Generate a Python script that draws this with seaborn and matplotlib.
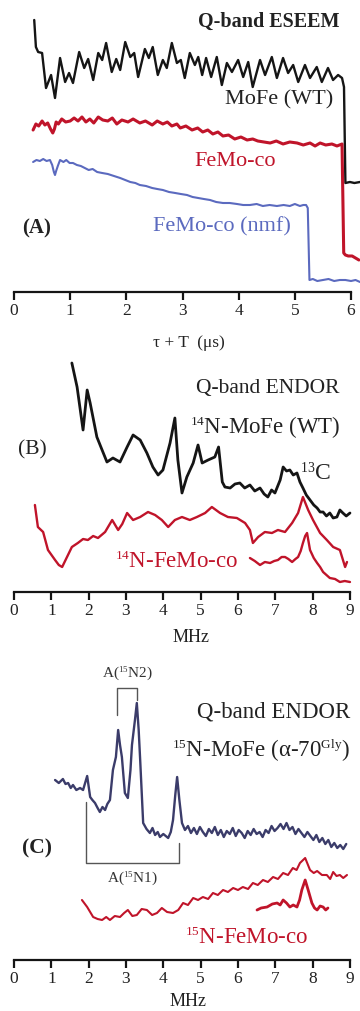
import numpy as np
import pandas as pd
import matplotlib
matplotlib.use("Agg")
import matplotlib.pyplot as plt
import seaborn as sns

try:
    import matplotlib._mathtext as _mt
    _mt.SHRINK_FACTOR = 0.58
except Exception:
    pass

# ---------------- data ----------------
# Panel A: Q-band ESEEM, x = tau+T (us), y = echo intensity (arb.)
a_wt_x = [0.36, 0.39, 0.43, 0.50, 0.57, 0.66, 0.73, 0.82, 0.91, 0.98, 1.05, 1.16, 1.25, 1.32,
          1.41, 1.50, 1.57, 1.64, 1.74, 1.82, 1.89, 1.98, 2.07, 2.14, 2.21, 2.33, 2.40, 2.47,
          2.56, 2.65, 2.72, 2.81, 2.90, 2.97, 3.04, 3.13, 3.22, 3.28, 3.35, 3.42, 3.51, 3.61,
          3.70, 3.79, 3.88, 3.99, 4.08, 4.17, 4.25, 4.38, 4.47, 4.59, 4.68, 4.79, 4.88, 4.97,
          5.06, 5.18, 5.27, 5.39, 5.48, 5.59, 5.68, 5.77, 5.84, 5.875, 5.90, 5.98, 6.06, 6.16]
a_wt_y = [272, 245, 240, 239, 204, 217, 194, 234, 210, 219, 209, 240, 224, 233,
          212, 239, 232, 249, 220, 233, 222, 250, 235, 239, 215, 243, 234, 245,
          217, 232, 224, 249, 229, 232, 214, 239, 227, 235, 217, 234, 215, 235,
          207, 229, 220, 232, 215, 230, 205, 232, 217, 235, 214, 234, 219, 227,
          210, 227, 214, 225, 210, 224, 212, 217, 214, 205, 109, 110, 109, 110]

a_fm_x = [0.34, 0.39, 0.44, 0.50, 0.55, 0.60, 0.65, 0.69, 0.72, 0.75, 0.79, 0.85, 0.92, 1.00,
          1.07, 1.14, 1.21, 1.28, 1.35, 1.42, 1.50, 1.58, 1.67, 1.75, 1.83, 1.92, 2.03, 2.12,
          2.24, 2.34, 2.46, 2.55, 2.65, 2.73, 2.81, 2.90, 2.96, 3.06, 3.17, 3.27, 3.36, 3.45,
          3.54, 3.63, 3.72, 3.82, 3.93, 4.04, 4.15, 4.25, 4.34, 4.45, 4.56, 4.67, 4.79, 4.91,
          5.04, 5.15, 5.27, 5.36, 5.45, 5.55, 5.66, 5.75, 5.84, 5.87, 5.90, 5.95, 6.02, 6.08, 6.14]
a_fm_y = [162, 168, 166, 171, 167, 169, 163, 159, 163, 170, 168, 173, 170, 171,
          174, 171, 175, 170, 173, 169, 175, 172, 171, 174, 168, 172, 170, 173,
          169, 171, 167, 171, 168, 170, 166, 168, 164, 166, 162, 164, 160, 162,
          158, 160, 156, 157, 153, 155, 152, 153, 151, 150, 149, 151, 148, 150,
          149, 147, 149, 146, 149, 147, 148, 146, 148, 39, 37, 36, 36, 34, 32]

a_nmf_x = [0.34, 0.40, 0.46, 0.52, 0.58, 0.64, 0.68, 0.71, 0.73, 0.75, 0.78, 0.82, 0.88, 0.93,
           0.99, 1.05, 1.12, 1.19, 1.26, 1.33, 1.40, 1.48, 1.57, 1.67, 1.78, 1.89, 1.98, 2.07,
           2.16, 2.24, 2.35, 2.46, 2.55, 2.65, 2.76, 2.87, 2.97, 3.08, 3.18, 3.28, 3.38, 3.49,
           3.60, 3.72, 3.84, 3.97, 4.08, 4.20, 4.32, 4.43, 4.55, 4.68, 4.80, 4.91, 5.00, 5.09,
           5.15, 5.20, 5.23, 5.26, 5.32, 5.40, 5.50, 5.60, 5.70, 5.80, 5.90, 6.00, 6.08, 6.16]
a_nmf_y = [130, 132, 131, 133, 131, 132, 127, 120, 117, 121, 126, 132, 130, 132,
           129, 129, 127, 126, 124, 122, 123, 120, 119, 118, 116, 114, 112, 110,
           109, 107, 106, 104, 103, 102, 100, 99, 98, 97, 95, 94, 93, 92,
           90, 89, 89, 88, 87, 87, 88, 86, 87, 86, 87, 86, 88, 86,
           87, 87, 84, 12, 13, 11, 12, 13, 11, 12, 12, 11, 12, 10]

# Panel B: Q-band ENDOR 14N, x = MHz
b_wt_x = [1.55, 1.69, 1.85, 1.96, 2.04, 2.22, 2.36, 2.49, 2.65, 2.84, 3.03, 3.19, 3.38, 3.56,
          3.72, 3.86, 3.99, 4.18, 4.31, 4.39, 4.50, 4.63, 4.80, 4.93, 5.04, 5.20, 5.38, 5.48,
          5.58, 5.65, 5.79, 5.92, 6.05, 6.18, 6.32, 6.45, 6.59, 6.70, 6.80, 6.90, 6.99, 7.13,
          7.21, 7.30, 7.39, 7.48, 7.58, 7.66, 7.74, 7.83, 7.93, 8.03, 8.12, 8.20, 8.28, 8.37,
          8.46, 8.55, 8.65, 8.73, 8.81, 8.90, 9.00]
b_wt_y = [229, 205, 162, 202, 189, 155, 142, 130, 134, 130, 145, 157, 152, 139,
          125, 117, 122, 149, 174, 132, 99, 115, 129, 147, 129, 132, 135, 145,
          110, 105, 104, 108, 109, 104, 107, 101, 104, 98, 95, 102, 99, 112,
          125, 121, 122, 117, 119, 110, 104, 97, 92, 87, 84, 80, 80, 76,
          79, 74, 75, 82, 79, 76, 79]

b_fm_x = [0.56, 0.64, 0.78, 0.91, 1.10, 1.20, 1.29, 1.42, 1.55, 1.71, 1.85, 1.98, 2.12, 2.25,
          2.44, 2.63, 2.79, 2.90, 3.03, 3.19, 3.38, 3.59, 3.78, 3.96, 4.13, 4.31, 4.50, 4.71,
          4.90, 5.12, 5.30, 5.52, 5.73, 5.97, 6.19, 6.32, 6.40, 6.54, 6.72, 6.91, 7.07, 7.26,
          7.45, 7.61, 7.74, 7.88, 8.01, 8.20, 8.38, 8.55, 8.73, 8.87, 8.92]
b_fm_y = [87, 65, 60, 42, 32, 27, 25, 35, 45, 49, 53, 52, 56, 54,
          60, 72, 62, 68, 79, 72, 75, 80, 77, 72, 65, 72, 75, 72,
          75, 79, 85, 79, 75, 74, 69, 62, 49, 55, 60, 59, 62, 60,
          69, 79, 95, 82, 72, 59, 52, 45, 42, 25, 30]

b_fm2_x = [6.32, 6.45, 6.59, 6.72, 6.86, 6.97, 7.07, 7.17, 7.26, 7.35, 7.45, 7.54, 7.61, 7.68,
           7.74, 7.80, 7.85, 7.93, 8.03, 8.12, 8.20, 8.28, 8.37, 8.46, 8.60, 8.73, 8.86, 9.00]
b_fm2_y = [34, 31, 27, 30, 29, 31, 32, 35, 35, 33, 30, 33, 35, 41,
           49, 56, 59, 42, 34, 29, 25, 20, 17, 14, 13, 10, 11, 10]

# Panel C: Q-band ENDOR 15N, x = MHz
c_wt_x = [1.10, 1.20, 1.31, 1.38, 1.45, 1.52, 1.58, 1.67, 1.77, 1.85, 1.96, 2.04, 2.10, 2.17,
          2.24, 2.30, 2.37, 2.44, 2.50, 2.57, 2.65, 2.73, 2.79, 2.84, 2.89, 2.97, 3.05, 3.12,
          3.16, 3.24, 3.29, 3.34, 3.38, 3.46, 3.55, 3.64, 3.71, 3.78, 3.85, 3.91, 4.00, 4.13,
          4.20, 4.26, 4.32, 4.37, 4.43, 4.50, 4.58, 4.66, 4.74, 4.82, 4.90, 4.98, 5.06, 5.14,
          5.22, 5.30, 5.38, 5.46, 5.54, 5.62, 5.70, 5.78, 5.86, 5.94, 6.02, 6.10, 6.18, 6.26,
          6.34, 6.42, 6.50, 6.58, 6.66, 6.74, 6.82, 6.90, 6.98, 7.06, 7.14, 7.22, 7.30, 7.38,
          7.46, 7.54, 7.62, 7.70, 7.78, 7.86, 7.94, 8.02, 8.10, 8.18, 8.26, 8.34, 8.42, 8.50,
          8.58, 8.66, 8.74, 8.82, 8.90]
c_wt_y = [180, 177, 181, 176, 177, 172, 175, 170, 172, 170, 184, 163, 160, 157,
          152, 148, 153, 150, 156, 160, 190, 203, 230, 215, 203, 167, 162, 190,
          215, 240, 257, 230, 200, 137, 131, 127, 132, 125, 128, 123, 126, 122,
          128, 140, 165, 183, 160, 137, 130, 134, 127, 132, 126, 133, 128, 124,
          131, 127, 133, 125, 130, 123, 129, 126, 132, 124, 130, 127, 122, 129,
          125, 131, 126, 128, 123, 130, 127, 134, 129, 132, 136, 131, 137, 130,
          133, 126, 131, 127, 123, 128, 124, 120, 125, 118, 122, 116, 120, 113,
          117, 112, 115, 111, 116]

c_fm_x = [1.82, 1.96, 2.04, 2.12, 2.24, 2.36, 2.47, 2.57, 2.70, 2.84, 2.95, 3.05, 3.17, 3.29,
          3.42, 3.56, 3.70, 3.83, 3.96, 4.10, 4.26, 4.40, 4.53, 4.66, 4.80, 4.93, 5.06, 5.20,
          5.33, 5.46, 5.60, 5.73, 5.87, 6.00, 6.13, 6.27, 6.40, 6.53, 6.67, 6.80, 6.94, 7.07,
          7.21, 7.34, 7.47, 7.57, 7.66, 7.80, 7.93, 8.03, 8.12, 8.25, 8.38, 8.47, 8.55, 8.64,
          8.73, 8.82, 8.92]
c_fm_y = [60, 53, 48, 43, 41, 40, 43, 40, 44, 43, 47, 50, 44, 45,
          51, 50, 45, 47, 52, 48, 47, 50, 57, 55, 62, 60, 63, 61,
          67, 65, 70, 68, 72, 70, 73, 71, 77, 75, 80, 78, 83, 81,
          87, 85, 92, 90, 97, 102, 90, 87, 89, 85, 85, 81, 88, 84,
          85, 82, 85]

c_fm2_x = [6.51, 6.62, 6.78, 6.92, 7.05, 7.13, 7.21, 7.30, 7.39, 7.48, 7.58, 7.65, 7.71, 7.80,
           7.88, 7.98, 8.05, 8.12, 8.20, 8.28, 8.35, 8.41]
c_fm2_y = [50, 52, 53, 56, 57, 55, 60, 57, 53, 55, 53, 60, 70, 80,
           70, 57, 52, 50, 54, 53, 50, 52]

# annotation: hyperfine couplings A(15N2) and A(15N1) as pairs of peak positions
a_n2_peaks = [2.76, 3.29]
a_n1_peaks = [1.93, 4.43]

a_ticks = [0, 1, 2, 3, 4, 5, 6]
b_ticks = [0, 1, 2, 3, 4, 5, 6, 7, 8, 9]

# ---------------- style ----------------
sns.set_theme(style="white")
plt.rcParams["font.family"] = ["Liberation Serif", "DejaVu Serif"]
plt.rcParams["mathtext.fontset"] = "custom"
plt.rcParams["mathtext.rm"] = "Liberation Serif"
plt.rcParams["mathtext.it"] = "Liberation Serif:italic"
plt.rcParams["mathtext.bf"] = "Liberation Serif:bold"

BLACK = "#151515"
RED = "#c0142a"
BLUE = "#5b6abf"
NAVY = "#3b3c6a"
GRAY = "#555555"

W, H = 360, 1011
fig = plt.figure(figsize=(W / 100, H / 100), dpi=100)


def make_axes(top_px, bottom_px):
    return fig.add_axes([0, 1 - bottom_px / H, 1, (bottom_px - top_px) / H])


axA = make_axes(0, 292)
axB = make_axes(350, 592)
axC = make_axes(650, 960)

for ax, ticks, xl, yl in [(axA, a_ticks, (-14 / 56.17, 346 / 56.17), (0, 292)),
                          (axB, b_ticks, (-14 / 37.33, 346 / 37.33), (0, 242)),
                          (axC, b_ticks, (-14 / 37.33, 346 / 37.33), (0, 310))]:
    ax.set_xlim(*xl)
    ax.set_ylim(*yl)
    ax.patch.set_alpha(0)
    for s in ["top", "left", "right"]:
        ax.spines[s].set_visible(False)
    ax.spines["bottom"].set_bounds(ticks[0], ticks[-1])
    ax.spines["bottom"].set_linewidth(1.6)
    ax.spines["bottom"].set_color(BLACK)
    ax.set_xticks(ticks)
    ax.set_xticklabels([str(t) for t in ticks])
    ax.set_yticks([])
    ax.tick_params(axis="x", direction="out", length=6, width=1.6, color=BLACK,
                   labelsize=12.5, pad=2, labelcolor="#222222", bottom=True)
    ax.set_xlabel("")
    ax.set_ylabel("")

# ---------------- panel A ----------------
sns.lineplot(x=a_wt_x, y=a_wt_y, ax=axA, color=BLACK, lw=1.7, estimator=None, sort=False)
sns.lineplot(x=a_fm_x, y=a_fm_y, ax=axA, color=RED, lw=2.2, estimator=None, sort=False)
sns.lineplot(x=a_nmf_x, y=a_nmf_y, ax=axA, color=BLUE, lw=1.5, estimator=None, sort=False)

axA.text(5.80, 270, "Q-band ESEEM", ha="right", va="center", fontsize=14.5,
         fontweight="bold", color="#222222")
axA.text(5.68, 192, "MoFe (WT)", ha="right", va="center", fontsize=16, color="#222222")
axA.text(3.22, 130, "FeMo-co", ha="left", va="center", fontsize=16, color=RED)
axA.text(2.47, 65, "FeMo-co (nmf)", ha="left", va="center", fontsize=16, color=BLUE)
axA.text(0.14, 64, "(A)", ha="left", va="center", fontsize=15, fontweight="bold",
         color="#222222")
axA.text(3.12, -51, "τ + T  (μs)", ha="center", va="center", fontsize=12.5,
         color="#222222", clip_on=False)

# ---------------- panel B ----------------
sns.lineplot(x=b_wt_x, y=b_wt_y, ax=axB, color=BLACK, lw=2.0, estimator=None, sort=False)
sns.lineplot(x=b_fm_x, y=b_fm_y, ax=axB, color=RED, lw=1.7, estimator=None, sort=False)
sns.lineplot(x=b_fm2_x, y=b_fm2_y, ax=axB, color=RED, lw=1.7, estimator=None, sort=False)

axB.text(8.73, 204, "Q-band ENDOR", ha="right", va="center", fontsize=15.5, color="#222222")
axB.text(8.73, 165, r"$\mathregular{^{14}}$N-MoFe (WT)", ha="right", va="center",
         fontsize=16.5, color="#222222")
axB.text(7.66, 119, r"$\mathregular{^{13}}$C", ha="left", va="center", fontsize=17,
         color="#222222")
axB.text(0.11, 142, "(B)", ha="left", va="center", fontsize=15.5, color="#222222")
axB.text(2.71, 29, r"$\mathregular{^{14}}$N-FeMo-co", ha="left", va="center",
         fontsize=16.5, color=RED)
axB.text(4.75, -46, "MHz", ha="center", va="center", fontsize=13, color="#222222",
         clip_on=False)

# ---------------- panel C ----------------
sns.lineplot(x=c_wt_x, y=c_wt_y, ax=axC, color=NAVY, lw=1.7, estimator=None, sort=False)
sns.lineplot(x=c_fm_x, y=c_fm_y, ax=axC, color=RED, lw=1.5, estimator=None, sort=False)
sns.lineplot(x=c_fm2_x, y=c_fm2_y, ax=axC, color=RED, lw=2.0, estimator=None, sort=False)

axC.text(9.0, 248, "Q-band ENDOR", ha="right", va="center", fontsize=16.5, color="#222222")
axC.text(9.0, 210, r"$\mathregular{^{15}}$N-MoFe (α-70$\mathregular{^{Gly}}$)", ha="right",
         va="center", fontsize=16.5, color="#222222")
axC.text(0.21, 112, "(C)", ha="left", va="center", fontsize=15.5, fontweight="bold",
         color="#222222")
axC.text(4.58, 22, r"$\mathregular{^{15}}$N-FeMo-co", ha="left", va="center",
         fontsize=16.5, color=RED)
axC.text(4.66, -42, "MHz", ha="center", va="center", fontsize=13, color="#222222",
         clip_on=False)

# bracket A(15N2)
n2l, n2r = a_n2_peaks
axC.plot([n2l, n2l, n2r, n2r], [245, 272, 272, 260], color=GRAY, lw=1.0)
axC.text((n2l + n2r) / 2, 287, r"A($\mathregular{^{15}}$N2)", ha="center", va="center",
         fontsize=11, color="#333333")
# bracket A(15N1)
n1l, n1r = a_n1_peaks
axC.plot([n1l, n1l, n1r, n1r], [158, 97, 97, 117], color=GRAY, lw=1.0)
axC.text((n1l + n1r) / 2, 82, r"A($\mathregular{^{15}}$N1)", ha="center", va="center",
         fontsize=11, color="#333333")

fig.savefig("out.png", dpi=100)
